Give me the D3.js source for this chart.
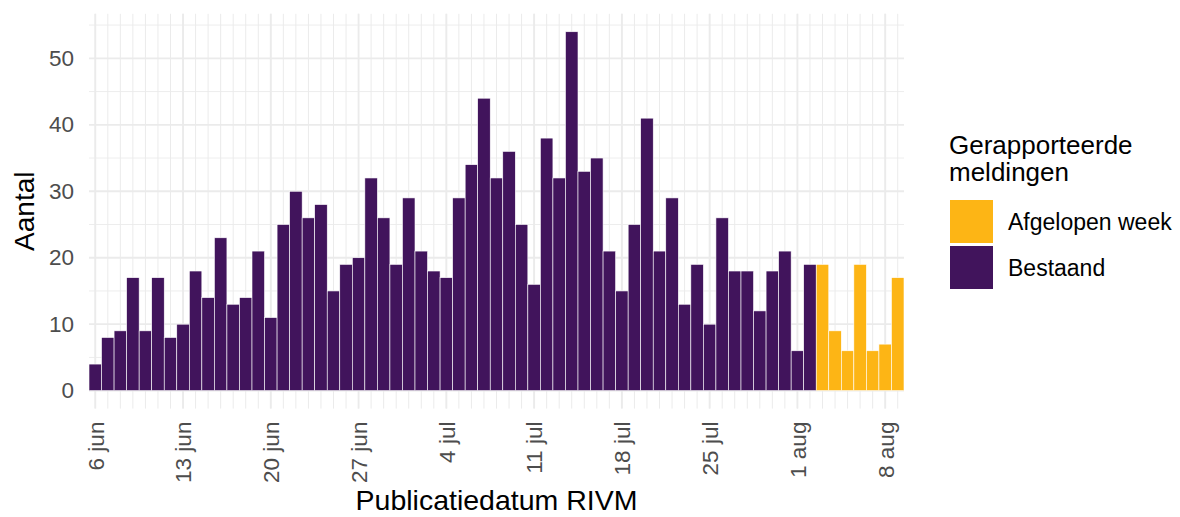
<!DOCTYPE html>
<html>
<head>
<meta charset="utf-8">
<script src="https://cdn.jsdelivr.net/npm/d3@7"></script>
<style>
  body { margin: 0; background: #fff; }
  svg { font-family: "Liberation Sans", Arial, sans-serif; display: block; }
</style>
</head>
<body>
<div id="chart"></div>
<script>
// daily counts, 6 jun .. 9 aug (one value per day)
var firstDay = new Date(2022, 5, 6)
var lastDay = new Date(2022, 7, 9)

var bestaand = [
  4, 8, 9, 17, 9, 17, 8, 10, 18, 14, 23, 13, 14, 21, 11, 25, 30, 26, 28, 15, 19, 20, 32, 26, 19,   // jun
  29, 21, 18, 17, 29, 34, 44, 32, 36, 25, 16, 38, 32, 54, 33, 35, 21, 15, 25, 41, 21, 29, 13, 19, 10,
  26, 18, 18, 12, 18, 21,                                                                          // jul
  6, 19                                                                                            // aug
]
var afgelopenWeek = [19, 9, 6, 19, 6, 7, 17]

var tickLabels = ["6 jun", "13 jun", "20 jun", "27 jun", "4 jul", "11 jul", "18 jul", "25 jul", "1 aug", "8 aug"]
var yTicks = [0, 10, 20, 30, 40, 50]

var groups = ["Afgelopen week", "Bestaand"]
var colors = ["#FDB515", "#41145C"]

var width = 1180, height = 517
var panel = { left: 89, right: 904, top: 13.8, bottom: 408.6 }

var days = d3.timeDay.range(firstDay, d3.timeDay.offset(lastDay, 1))
var values = bestaand.concat(afgelopenWeek)
var data = days.map(function (d, i) {
  return { date: d, value: values[i], group: i < bestaand.length ? groups[1] : groups[0] }
})

var svg = d3.select("#chart").append("svg")
  .attr("width", width)
  .attr("height", height)

var x = d3.scaleTime()
  .domain([d3.timeHour.offset(firstDay, -12), d3.timeHour.offset(lastDay, 12)])
  .range([panel.left, panel.right])

var y = d3.scaleLinear()
  .domain([-2.7, 56.7])
  .range([panel.bottom, panel.top])

var color = d3.scaleOrdinal().domain(groups).range(colors)

// grid
var grid = svg.append("g")
grid.selectAll("line.ymin")
  .data(d3.range(5, 56, 10))
  .join("line")
  .attr("x1", panel.left).attr("x2", panel.right)
  .attr("y1", function (d) { return y(d) }).attr("y2", function (d) { return y(d) })
  .attr("stroke", "#EBEBEB").attr("stroke-width", 0.9)
grid.selectAll("line.ymaj")
  .data(yTicks)
  .join("line")
  .attr("x1", panel.left).attr("x2", panel.right)
  .attr("y1", function (d) { return y(d) }).attr("y2", function (d) { return y(d) })
  .attr("stroke", "#EBEBEB").attr("stroke-width", 1.8)

var tickDates = d3.timeMonday.range(firstDay, d3.timeDay.offset(lastDay, 1))
grid.selectAll("line.xmin")
  .data(days)
  .join("line")
  .attr("x1", function (d) { return x(d) }).attr("x2", function (d) { return x(d) })
  .attr("y1", panel.top).attr("y2", panel.bottom)
  .attr("stroke", "#EBEBEB").attr("stroke-width", 1)
grid.selectAll("line.xmaj")
  .data(tickDates)
  .join("line")
  .attr("x1", function (d) { return x(d) }).attr("x2", function (d) { return x(d) })
  .attr("y1", panel.top).attr("y2", panel.bottom)
  .attr("stroke", "#EBEBEB").attr("stroke-width", 1.9)

// bars
svg.append("g")
  .selectAll("rect")
  .data(data)
  .join("rect")
  .attr("x", function (d) { return x(d3.timeHour.offset(d.date, -12)) })
  .attr("width", function (d) { return x(d3.timeHour.offset(d.date, 12)) - x(d3.timeHour.offset(d.date, -12)) })
  .attr("y", function (d) { return y(d.value) })
  .attr("height", function (d) { return y(0) - y(d.value) })
  .attr("fill", function (d) { return color(d.group) })
  .attr("stroke", "#fff")
  .attr("stroke-width", 0.6)

// axes
var xAxis = svg.append("g")
  .attr("transform", "translate(0," + panel.bottom + ")")
  .call(d3.axisBottom(x).tickValues(tickDates).tickFormat(function (d, i) { return tickLabels[i] }).tickSize(0))
xAxis.select(".domain").remove()
xAxis.selectAll("text")
  .attr("x", 0).attr("y", 0)
  .attr("dy", "0.35em")
  .attr("transform", "translate(0,13) rotate(-90)")
  .attr("text-anchor", "end")
  .attr("fill", "#4D4D4D")
  .style("font-size", "22.5px")
  .style("font-family", "Liberation Sans, Arial, sans-serif")

var yAxis = svg.append("g")
  .attr("transform", "translate(" + panel.left + ",0)")
  .call(d3.axisLeft(y).tickValues(yTicks).tickSize(0).tickPadding(15))
yAxis.select(".domain").remove()
yAxis.selectAll("text")
  .attr("fill", "#4D4D4D")
  .style("font-size", "22.5px")
  .style("font-family", "Liberation Sans, Arial, sans-serif")

// axis titles
svg.append("text")
  .attr("transform", "translate(34," + (panel.top + panel.bottom) / 2 + ") rotate(-90)")
  .attr("text-anchor", "middle")
  .style("font-size", "28px")
  .text("Aantal")

svg.append("text")
  .attr("x", (panel.left + panel.right) / 2)
  .attr("y", 510)
  .attr("text-anchor", "middle")
  .style("font-size", "28.5px")
  .text("Publicatiedatum RIVM")

// legend
var legend = svg.append("g").attr("transform", "translate(949,0)")
var title = legend.append("text").style("font-size", "26px")
title.append("tspan").attr("x", 0).attr("y", 154).text("Gerapporteerde")
title.append("tspan").attr("x", 0).attr("y", 181).text("meldingen")

var item = legend.selectAll("g.item")
  .data(groups)
  .join("g")
  .attr("transform", function (d, i) { return "translate(0," + (200 + i * 46) + ")" })
item.append("rect")
  .attr("x", 1).attr("width", 43).attr("height", 43)
  .attr("fill", function (d) { return color(d) })
item.append("text")
  .attr("x", 59).attr("y", 30)
  .style("font-size", "23px")
  .text(function (d) { return d })
</script>
</body>
</html>
